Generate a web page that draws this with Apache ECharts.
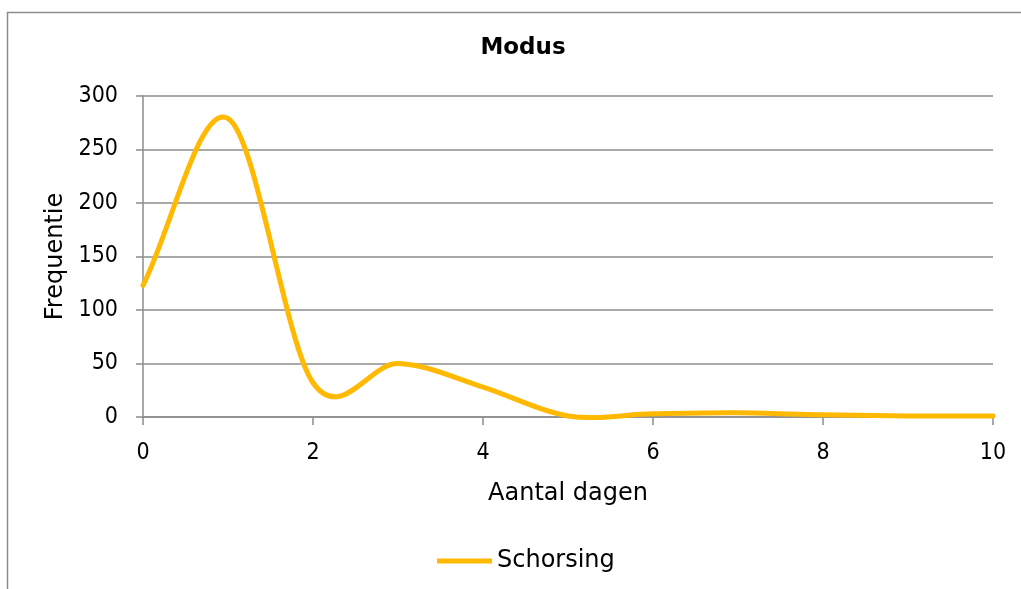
<!DOCTYPE html>
<html><head><meta charset="utf-8">
<script src="https://cdn.jsdelivr.net/npm/echarts@6/dist/echarts.min.js"></script>
<style>html,body{margin:0;padding:0;background:#fff}#c{width:1021px;height:589px}</style>
</head><body><div id="c"></div>
<script>
const days = [0, 1, 2, 3, 4, 5, 6, 7, 8, 9, 10];
const schorsing = [123, 279, 32, 50, 28, 1, 3, 4, 2, 1, 1];
const seriesName = 'Schorsing';
const titleText = 'Modus';
const xName = 'Aantal dagen';
const yName = 'Frequentie';

const chart = echarts.init(document.getElementById('c'), null, {renderer: 'canvas'});
const font = 'DejaVu Sans, Verdana, sans-serif';
const numFont = '"DejaVu Sans Condensed", "DejaVu Sans", sans-serif';
const grey = '#8c8c8c';
const lineColor = '#FFB900';
const pts = days.map((d, i) => [d, schorsing[i]]);

// Excel-style smoothed line: cubic Bezier with Catmull-Rom control points,
// computed in pixel space from the library's own coordinate system.
function renderItem(params, api) {
  const i = params.dataIndex;
  if (i === 0) {
    const P = pts.map(p => api.coord(p));
    const n = P.length;
    let d = 'M' + P[0][0] + ' ' + P[0][1];
    for (let k = 0; k < n - 1; k++) {
      const p0 = P[k], p1 = P[k + 1];
      let c1, c2;
      if (k === 0) c1 = [p0[0] + (p1[0] - p0[0]) / 3, p0[1] + (p1[1] - p0[1]) / 3];
      else c1 = [p0[0] + (p1[0] - P[k - 1][0]) / 6, p0[1] + (p1[1] - P[k - 1][1]) / 6];
      if (k + 2 >= n) c2 = [p1[0] - (p1[0] - p0[0]) / 3, p1[1] - (p1[1] - p0[1]) / 3];
      else c2 = [p1[0] - (P[k + 2][0] - p0[0]) / 6, p1[1] - (P[k + 2][1] - p0[1]) / 6];
      d += ' C' + c1[0] + ' ' + c1[1] + ' ' + c2[0] + ' ' + c2[1] + ' ' + p1[0] + ' ' + p1[1];
    }
    return {type: 'path', shape: {pathData: d}, style: {fill: 'none', stroke: lineColor, lineWidth: 5, lineCap: 'round', lineJoin: 'round'}};
  }
  return null;
}

chart.setOption({
  animation: false,
  backgroundColor: '#fff',
  graphic: [{type: 'rect', shape: {x: 7.5, y: 12.5, width: 1200, height: 800}, style: {fill: 'none', stroke: grey, lineWidth: 1.5}, silent: true, z: -1}],
  title: {text: titleText, left: 523, top: 37, textAlign: 'center', padding: 0,
    textStyle: {fontFamily: font, fontSize: 23, fontWeight: 'bold', color: '#000'}},
  grid: {left: 143, right: 28, top: 96, bottom: 172, containLabel: false},
  xAxis: {
    type: 'value', min: 0, max: 10, interval: 2,
    name: xName, nameLocation: 'middle', nameGap: 65,
    nameTextStyle: {fontFamily: font, fontSize: 24, color: '#000'},
    axisLine: {show: true, onZero: false, lineStyle: {color: grey, width: 1.5}},
    axisTick: {show: true, length: 8, lineStyle: {color: grey, width: 1.5}},
    axisLabel: {fontFamily: numFont, fontSize: 23, color: '#000', margin: 25},
    splitLine: {show: false}
  },
  yAxis: {
    type: 'value', min: 0, max: 300, interval: 50,
    name: yName, nameLocation: 'middle', nameGap: 71,
    nameTextStyle: {fontFamily: font, fontSize: 24, color: '#000'},
    axisLine: {show: true, lineStyle: {color: grey, width: 1.5}},
    axisTick: {show: true, length: 7, lineStyle: {color: grey, width: 1.5}},
    axisLabel: {fontFamily: numFont, fontSize: 23, color: '#000', margin: 25},
    splitLine: {show: true, lineStyle: {color: grey, width: 1.5}}
  },
  legend: {
    top: 549, left: 437, padding: 0,
    data: [{name: seriesName, icon: 'rect'}],
    itemWidth: 55, itemHeight: 5,
    textStyle: {fontFamily: font, fontSize: 24, color: '#000'}
  },
  series: [{
    name: seriesName, type: 'custom', renderItem: renderItem, clip: false,
    itemStyle: {color: lineColor},
    encode: {x: 0, y: 1},
    data: pts
  }]
});
</script></body></html>
